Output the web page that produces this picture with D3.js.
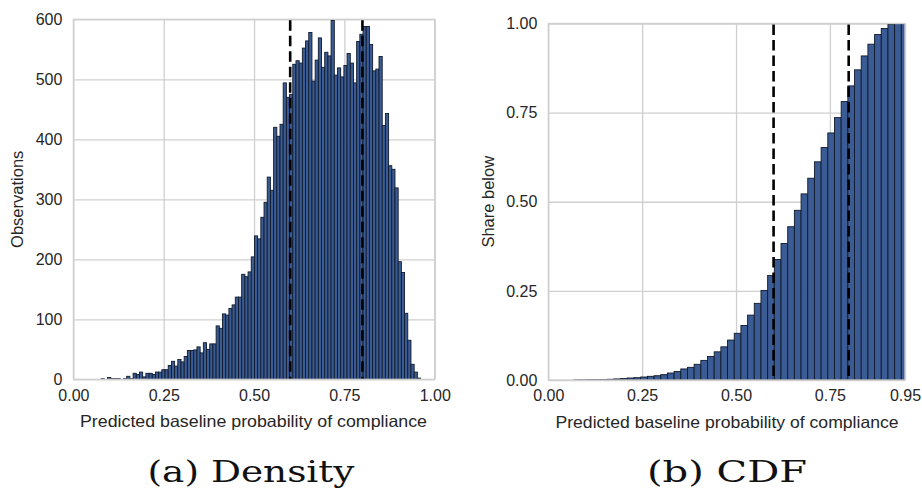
<!DOCTYPE html>
<html><head><meta charset="utf-8">
<script src="https://cdn.jsdelivr.net/npm/d3@7/dist/d3.min.js"></script>
<style>body{margin:0;background:#fff} svg{display:block}</style>
</head><body>
<svg id="chart" width="922" height="488"></svg>
<script>
// ---------- data ----------
const densityCounts = [
  1, 0, 3, 1, 1, 1, 0, 1, 5, 1,
  10, 8, 12, 4, 10, 10, 8, 12, 12, 16,
  16, 23, 30, 22, 33, 29, 38, 48, 48, 49,
  54, 44, 61, 50, 59, 59, 89, 85, 109, 107,
  118, 124, 137, 137, 175, 171, 179, 204, 239, 234,
  270, 295, 337, 315, 420, 405, 425, 494, 470, 475,
  525, 531, 527, 552, 564, 578, 497, 532, 569, 520,
  545, 539, 598, 507, 519, 504, 523, 543, 527, 494,
  563, 575, 588, 588, 558, 514, 517, 538, 423, 443,
  356, 350, 319, 196, 178, 110, 65, 25, 12, 2
];
const densityBinStart = 0.0768;
const densityBinWidth = 0.00884;

const cdfShares = [
  0.0003, 0.0005, 0.001, 0.001, 0.0015, 0.002, 0.003, 0.004, 0.0056, 0.0065,
  0.0084, 0.0103, 0.012, 0.015, 0.0196, 0.024, 0.031, 0.0355, 0.044, 0.055,
  0.066, 0.079, 0.093, 0.112, 0.131, 0.153, 0.182, 0.215, 0.251, 0.293,
  0.338, 0.383, 0.430, 0.476, 0.522, 0.566, 0.612, 0.652, 0.693, 0.736,
  0.781, 0.825, 0.870, 0.909, 0.942, 0.969, 0.986, 0.998, 1.0, 1.0
];
const cdfBinStart = 0.068;
const cdfBinWidth = 0.0178;

const thresholds = [0.6, 0.8];

const densityXTicks = [0, 0.25, 0.5, 0.75, 1.0];
const densityXLabels = ["0.00", "0.25", "0.50", "0.75", "1.00"];
const densityYTicks = [0, 100, 200, 300, 400, 500, 600];
const densityYLabels = ["0", "100", "200", "300", "400", "500", "600"];
const cdfXTicks = [0, 0.25, 0.5, 0.75, 0.95];
const cdfXLabels = ["0.00", "0.25", "0.50", "0.75", "0.95"];
const cdfYTicks = [0, 0.25, 0.5, 0.75, 1.0];
const cdfYLabels = ["0.00", "0.25", "0.50", "0.75", "1.00"];

const xTitle = "Predicted baseline probability of compliance";
const densityYTitle = "Observations";
const cdfYTitle = "Share below";
const captions = ["(a) Density", "(b) CDF"];

// ---------- style ----------
const BAR_FILL = "#3b5b94";
const BAR_STROKE = "#111a2a";
const GRID = "#cfcfcf";
const TEXT = "#262626";
const SANS = "'Liberation Sans', Arial, sans-serif";
const SERIF = "'DejaVu Serif', serif";

const svg = d3.select("#chart");

function panel(opts) {
  const {id, left, right, top, bottom, xDomain, yDomain, xTicks, xLabels, yTicks, yLabels,
         bars, yTitle, yTitleX, titleCx, titleLen, caption, capCx, capLen} = opts;
  const x = d3.scaleLinear().domain(xDomain).range([left, right]);
  const y = d3.scaleLinear().domain(yDomain).range([bottom, top]);
  const g = svg.append("g");

  g.append("defs").append("clipPath").attr("id", "clip" + id)
    .append("rect").attr("x", left).attr("y", top).attr("width", right - left).attr("height", bottom - top);

  // grid
  const gx = g.append("g").attr("transform", `translate(0,${bottom})`)
    .call(d3.axisBottom(x).tickValues(xTicks).tickSize(-(bottom - top)).tickFormat(""));
  const gy = g.append("g").attr("transform", `translate(${left},0)`)
    .call(d3.axisLeft(y).tickValues(yTicks).tickSize(-(right - left)).tickFormat(""));
  [gx, gy].forEach(a => {
    a.select(".domain").remove();
    a.selectAll("line").attr("stroke", GRID).attr("stroke-width", 1.3);
  });

  // bars
  g.append("g").attr("clip-path", `url(#clip${id})`)
    .selectAll("rect").data(bars).join("rect")
    .attr("x", d => x(d.x0))
    .attr("width", d => x(d.x1) - x(d.x0))
    .attr("y", d => y(d.v))
    .attr("height", d => y(yDomain[0]) - y(d.v))
    .attr("fill", BAR_FILL)
    .attr("stroke", BAR_STROKE)
    .attr("stroke-width", 0.9);

  // thresholds
  g.append("g").selectAll("line").data(thresholds).join("line")
    .attr("x1", d => x(d)).attr("x2", d => x(d))
    .attr("y1", top + 1).attr("y2", bottom)
    .attr("stroke", "#000").attr("stroke-width", 2.6)
    .attr("stroke-dasharray", "10.5,5");

  // frame
  g.append("rect").attr("x", left).attr("y", top)
    .attr("width", right - left).attr("height", bottom - top)
    .attr("fill", "none").attr("stroke", GRID).attr("stroke-width", 1.3);

  // tick labels
  const ax = g.append("g").attr("transform", `translate(0,${bottom})`)
    .call(d3.axisBottom(x).tickValues(xTicks).tickSize(0).tickPadding(10)
      .tickFormat((d, i) => xLabels[i]));
  const ay = g.append("g").attr("transform", `translate(${left},0)`)
    .call(d3.axisLeft(y).tickValues(yTicks).tickSize(0).tickPadding(11)
      .tickFormat((d, i) => yLabels[i]));
  [ax, ay].forEach(a => {
    a.select(".domain").remove();
    a.selectAll("text").attr("font-family", SANS).attr("font-size", 16).attr("fill", TEXT);
  });

  // titles
  g.append("text").attr("x", titleCx).attr("y", bottom + 48)
    .attr("text-anchor", "middle").attr("font-family", SANS).attr("font-size", 16.5)
    .attr("textLength", titleLen).attr("lengthAdjust", "spacingAndGlyphs")
    .attr("fill", TEXT).text(xTitle);
  g.append("text").attr("transform", `translate(${yTitleX},${(top + bottom) / 2}) rotate(-90)`)
    .attr("text-anchor", "middle").attr("font-family", SANS).attr("font-size", 16.5)
    .attr("fill", TEXT).text(yTitle);
  g.append("text").attr("x", capCx).attr("y", 482)
    .attr("text-anchor", "middle").attr("font-family", SERIF).attr("font-size", 29)
    .attr("textLength", capLen).attr("lengthAdjust", "spacingAndGlyphs")
    .attr("fill", "#111").text(caption);
}

const densityBars = densityCounts.map((v, i) => ({
  x0: densityBinStart + i * densityBinWidth,
  x1: densityBinStart + (i + 1) * densityBinWidth, v
}));
const cdfBars = cdfShares.map((v, i) => ({
  x0: cdfBinStart + i * cdfBinWidth,
  x1: cdfBinStart + (i + 1) * cdfBinWidth, v
}));

panel({id: "a", left: 73.4, right: 434.7, top: 19.3, bottom: 379.3,
  xDomain: [0, 1], yDomain: [0, 600], xTicks: densityXTicks, xLabels: densityXLabels,
  yTicks: densityYTicks, yLabels: densityYLabels, bars: densityBars,
  yTitle: densityYTitle, yTitleX: 23, titleCx: 253.5, titleLen: 347,
  caption: captions[0], capCx: 251, capLen: 207});

panel({id: "b", left: 548.3, right: 905, top: 23.5, bottom: 380,
  xDomain: [0, 0.95], yDomain: [0, 1], xTicks: cdfXTicks, xLabels: cdfXLabels,
  yTicks: cdfYTicks, yLabels: cdfYLabels, bars: cdfBars,
  yTitle: cdfYTitle, yTitleX: 494, titleCx: 727, titleLen: 343,
  caption: captions[1], capCx: 727, capLen: 160});
</script>
</body></html>
